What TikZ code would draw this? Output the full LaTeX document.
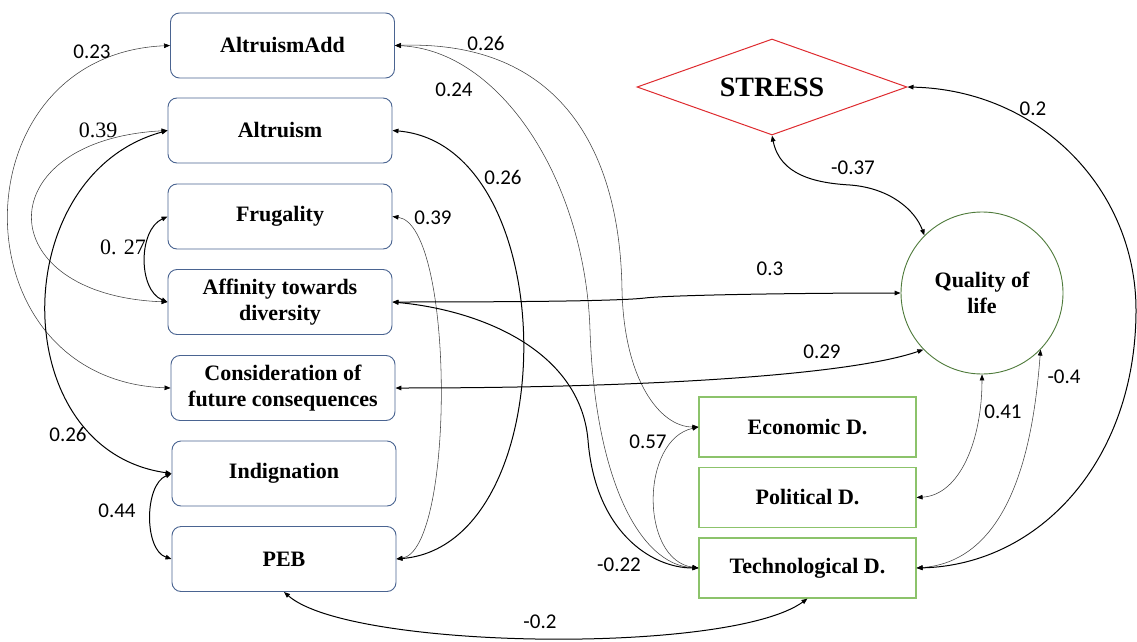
\documentclass[tikz,border=0pt]{standalone}
\usepackage{fontspec}
\setmainfont{Liberation Serif}
\newfontfamily\numfont{Carlito}
\usetikzlibrary{arrows.meta,shapes.geometric}

\definecolor{boxblue}{HTML}{4A6491}
\definecolor{boxgreen}{HTML}{8CC36B}
\definecolor{circgreen}{HTML}{4E7A3A}
\definecolor{stressred}{HTML}{DE2A2E}
\definecolor{thinline}{HTML}{404040}

\begin{document}
\begin{tikzpicture}[x=1pt,y=-1pt,
  varbox/.style={draw=boxblue, line width=0.9pt, rounded corners=9pt,
    minimum width=224pt, minimum height=65pt, align=center, inner sep=0pt,
    font=\fontsize{22}{26}\selectfont\bfseries},
  dimbox/.style={draw=boxgreen, line width=1.1pt, minimum width=217pt,
    minimum height=60pt, inner sep=0pt, font=\fontsize{22}{26}\selectfont\bfseries},
  strong/.style={draw=black, line width=1pt, {Triangle[length=6pt,width=4.6pt]}-{Triangle[length=6pt,width=4.6pt]}},
  weak/.style={draw=thinline, line width=0.55pt, {Triangle[length=6pt,width=4.6pt,color=black]}-{Triangle[length=6pt,width=4.6pt,color=black]}},
  coef/.style={font=\numfont\fontsize{21}{24}\selectfont, inner sep=0pt},
  coefserif/.style={font=\fontsize{22}{24}\selectfont, inner sep=0pt}
]
\useasboundingbox (0,0) rectangle (1137,642);

% predictor column
\node[varbox] (aadd) at (282.5,45.5) {AltruismAdd};
\node[varbox] (alt)  at (280,130.5)  {Altruism};
\node[varbox] (fru)  at (280,216.5)  {Frugality};
\node[varbox] (aff)  at (280,302)    {Affinity towards\\diversity};
\node[varbox] (cfc)  at (283,388)    {Consideration of\\future consequences};
\node[varbox] (ind)  at (284,473.5)  {Indignation};
\node[varbox] (peb)  at (284,559)    {PEB};

% dimensions
\node[dimbox] (eco)  at (807.5,427)  {Economic D.};
\node[dimbox] (pol)  at (807.5,497.5){Political D.};
\node[dimbox] (tech) at (807.5,568)  {Technological D.};

% outcomes
\node[draw=circgreen, line width=0.9pt, circle, minimum size=162pt, inner sep=0pt,
  align=center, font=\fontsize{22}{26}\selectfont\bfseries] (qol) at (982,293) {Quality of\\life};
\node[draw=stressred, line width=1pt, diamond, shape aspect=2.8, minimum width=270pt,
  minimum height=96pt, inner sep=0pt, font=\fontsize{28}{30}\selectfont\bfseries]
  (stress) at (772,87) {STRESS};

% covariances on the left side of the column
\draw[weak]   (aadd.west) .. controls (-45,55) and (-45,380) .. (cfc.west);
\draw[weak]   (alt.west) .. controls (-12,140) and (-12,295) .. (aff.west);
\draw[strong] (fru.west) .. controls (138,230) and (138,290) .. (aff.west);
\draw[strong] (alt.west) .. controls (5,175) and (5,450) .. (ind.west);
\draw[strong] (ind.west) .. controls (144,485) and (144,550) .. (peb.west);

% covariances on the right side of the column
\draw[strong] (alt.east) .. controls (565,145) and (565,545) .. (peb.east);
\draw[weak]   (fru.east) .. controls (455,225) and (455,550) .. (peb.east);
\draw[weak]   (aadd.east) .. controls (560,40) and (620,150) .. (622,290)
              .. controls (624,380) and (660,427) .. (eco.west);
\draw[weak]   (aadd.east) .. controls (500,50) and (585,180) .. (590,330)
              .. controls (595,480) and (640,565) .. (tech.west);
\draw[strong] (aff.east) .. controls (480,310) and (580,350) .. (588,440)
              .. controls (595,530) and (650,568) .. (tech.west);
\draw[strong] (aff.east) .. controls (520,302) and (620,301) .. (645,298)
              .. controls (670,295) and (800,293) .. (qol.west);
\draw[strong] (cfc.east) .. controls (650,388) and (850,375) .. (qol.-136);
\draw[strong] (peb.south) .. controls (350,650) and (730,655) .. (tech.south);

% links among dimensions and outcomes
\draw[weak]   (eco.west) .. controls (640,440) and (640,560) .. (tech.west);
\draw[weak]   (qol.south) .. controls (982,440) and (960,495) .. (pol.east);
\draw[weak]   (qol.-44) .. controls (1035,420) and (1020,560) .. (tech.east);
\draw[strong] (stress.east) .. controls (1040,90) and (1136,190) .. (1136,310)
              .. controls (1136,460) and (1040,565) .. (tech.east);
\draw[strong] (stress.south) .. controls (780,175) and (815,183) .. (850,185)
              .. controls (890,188) and (915,210) .. (qol.135);

% coefficients
\node[coef]      (c1)  at (92,52)   {0.23};
\node[coefserif] (c2)  at (98,130)  {0.39};
\node[coefserif] (c3)  at (123,247) {0. 27};
\node[coef]      (c4)  at (68,434)  {0.26};
\node[coef]      (c5)  at (117,511) {0.44};
\node[coef]      (c6)  at (486,43)  {0.26};
\node[coef]      (c7)  at (454,90)  {0.24};
\node[coef]      (c8)  at (503,177) {0.26};
\node[coef]      (c9)  at (433,218) {0.39};
\node[coef]      (c10) at (770,269) {0.3};
\node[coef]      (c11) at (853,168) {-0.37};
\node[coef]      (c12) at (1033,109){0.2};
\node[coef]      (c13) at (822,352) {0.29};
\node[coef]      (c14) at (1003,412){0.41};
\node[coef]      (c15) at (1064,377){-0.4};
\node[coef]      (c16) at (648,442) {0.57};
\node[coef]      (c17) at (619,565) {-0.22};
\node[coef]      (c18) at (540,622) {-0.2};
\end{tikzpicture}
\end{document}
